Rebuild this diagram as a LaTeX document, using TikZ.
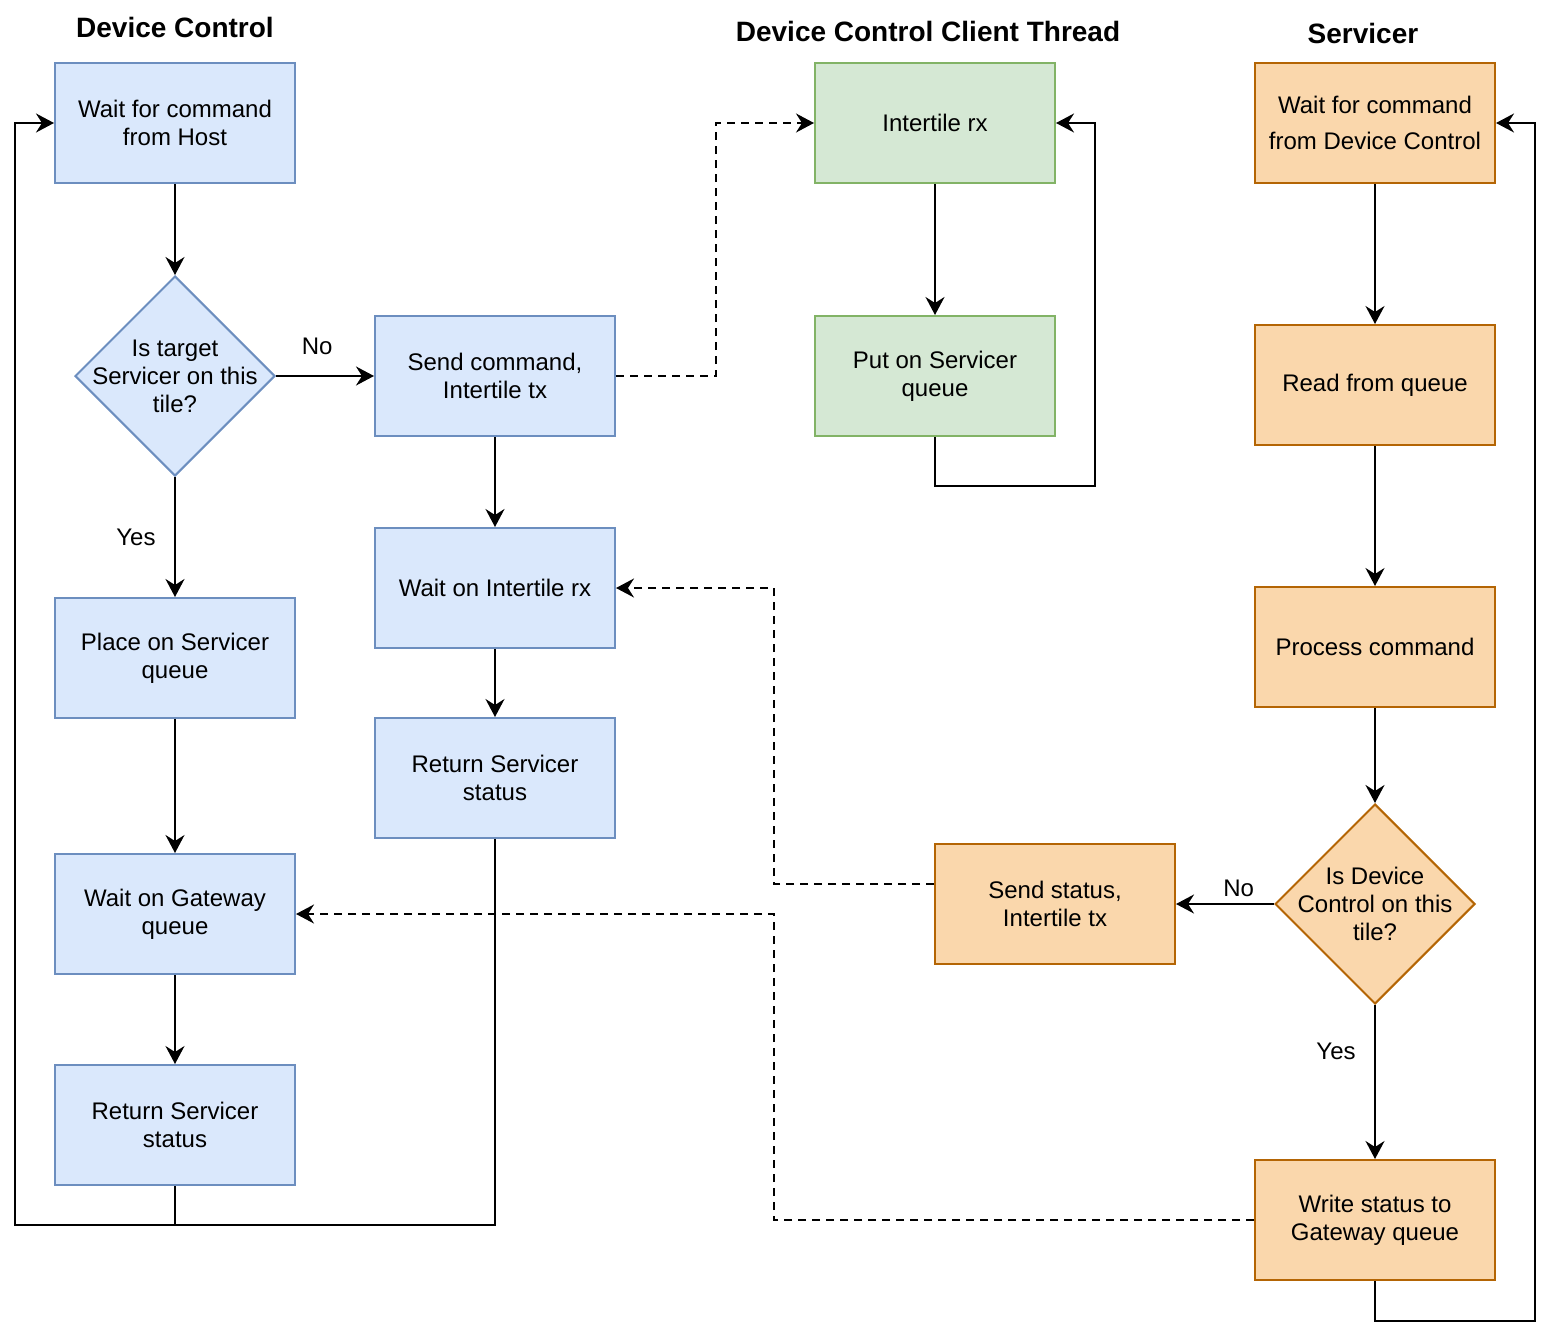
\documentclass[tikz,border=0pt]{standalone}
\usepackage{fontspec}
\setmainfont{Liberation Sans}
\usetikzlibrary{arrows.meta, positioning, calc, shapes.geometric}

\definecolor{dcfill}{HTML}{DAE8FC}
\definecolor{dcline}{HTML}{6C8EBF}
\definecolor{ctfill}{HTML}{D5E8D4}
\definecolor{ctline}{HTML}{82B366}
\definecolor{svfill}{HTML}{FAD7AC}
\definecolor{svline}{HTML}{B46504}

\begin{document}
\begin{tikzpicture}[
    x=0.5pt, y=-0.5pt,
    font=\fontsize{12}{14}\selectfont,
    box/.style={rectangle, draw, line width=1pt, minimum width=120pt, minimum height=60pt, inner sep=0pt, align=center},
    dcbox/.style={box, fill=dcfill, draw=dcline},
    ctbox/.style={box, fill=ctfill, draw=ctline},
    svbox/.style={box, fill=svfill, draw=svline},
    decision/.style={diamond, draw, line width=1pt, minimum width=100pt, minimum height=100pt, inner sep=0pt, aspect=1},
    title/.style={font=\fontsize{14}{16}\selectfont\bfseries},
    arrow/.style={-{Stealth[length=9pt, width=9.5pt, inset=3pt]}, line width=1pt},
    link/.style={arrow, dash pattern=on 4pt off 3pt}
]
    \useasboundingbox (0,0) rectangle (1552,1338);

    % Column titles
    \node[title] (dctitle) at (175,27) {Device Control};
    \node[title] (cttitle) at (928,31) {Device Control Client Thread};
    \node[title] (svtitle) at (1363,33) {Servicer};

    % --- Device Control ---
    \node[dcbox] (hostwait) at (175,123) {Wait for command\\from Host};
    \node[decision, fill=dcfill, draw=dcline,
          label={[align=center]center:Is target\\Servicer on this\\tile?}] (targetq) at (175,376) {};
    \node[dcbox] (placeq) at (175,658) {Place on Servicer\\queue};
    \node[dcbox] (waitgw) at (175,914) {Wait on Gateway\\queue};
    \node[dcbox] (retlocal) at (175,1125) {Return Servicer\\status};

    \node[dcbox] (sendcmd) at (495,376) {Send command,\\Intertile tx};
    \node[dcbox] (waitrx) at (495,588) {Wait on Intertile rx};
    \node[dcbox] (retremote) at (495,778) {Return Servicer\\status};

    % --- Client thread ---
    \node[ctbox] (ctrx) at (935,123) {Intertile rx};
    \node[ctbox] (ctqueue) at (935,376) {Put on Servicer\\queue};

    % --- Servicer ---
    \node[svbox] (svwait) at (1375,123) {Wait for command\\[4pt]from Device Control};
    \node[svbox] (svread) at (1375,385) {Read from queue};
    \node[svbox] (svproc) at (1375,647) {Process command};
    \node[decision, fill=svfill, draw=svline,
          label={[align=center]center:Is Device\\Control on this\\tile?}] (dcq) at (1375,904) {};
    \node[svbox] (svsend) at (1055,904) {Send status,\\Intertile tx};
    \node[svbox] (svwrite) at (1375,1220) {Write status to\\Gateway queue};

    % Device Control flow
    \draw[arrow] (hostwait) -- (targetq);
    \draw[arrow] (targetq) -- (sendcmd) node[pos=0.42, yshift=15pt] {No};
    \draw[arrow] (targetq) -- (placeq) node[midway, xshift=-19.5pt] {Yes};
    \draw[arrow] (placeq) -- (waitgw);
    \draw[arrow] (waitgw) -- (retlocal);
    \draw[arrow] (sendcmd) -- (waitrx);
    \draw[arrow] (waitrx) -- (retremote);
    \draw[arrow] (retlocal.south) |- (15,1225) |- (hostwait.west);
    \draw[line width=1pt] (retremote.south) |- (retlocal.south |- 0,1225);

    % Client thread flow
    \draw[arrow] (ctrx) -- (ctqueue);
    \draw[arrow] (ctqueue.south) -- ++(0,49) -- ++(160,0) |- (ctrx.east);

    % Servicer flow
    \draw[arrow] (svwait) -- (svread);
    \draw[arrow] (svread) -- (svproc);
    \draw[arrow] (svproc) -- (dcq);
    \draw[arrow] (dcq) -- (svsend) node[pos=0.36, yshift=8pt] {No};
    \draw[arrow] (dcq) -- (svwrite) node[pos=0.3, xshift=-19.5pt] {Yes};
    \draw[arrow] (svwrite.south) -- ++(0,40) -- ++(160,0) |- (svwait.east);

    % Messages between threads
    \draw[link] (sendcmd.east) -- ++(100,0) |- (ctrx.west);
    \draw[link] ([yshift=10pt]svsend.west) -- ++(-160,0) |- (waitrx.east);
    \draw[link] (svwrite.west) -- ++(-480,0) |- (waitgw.east);

\end{tikzpicture}
\end{document}
